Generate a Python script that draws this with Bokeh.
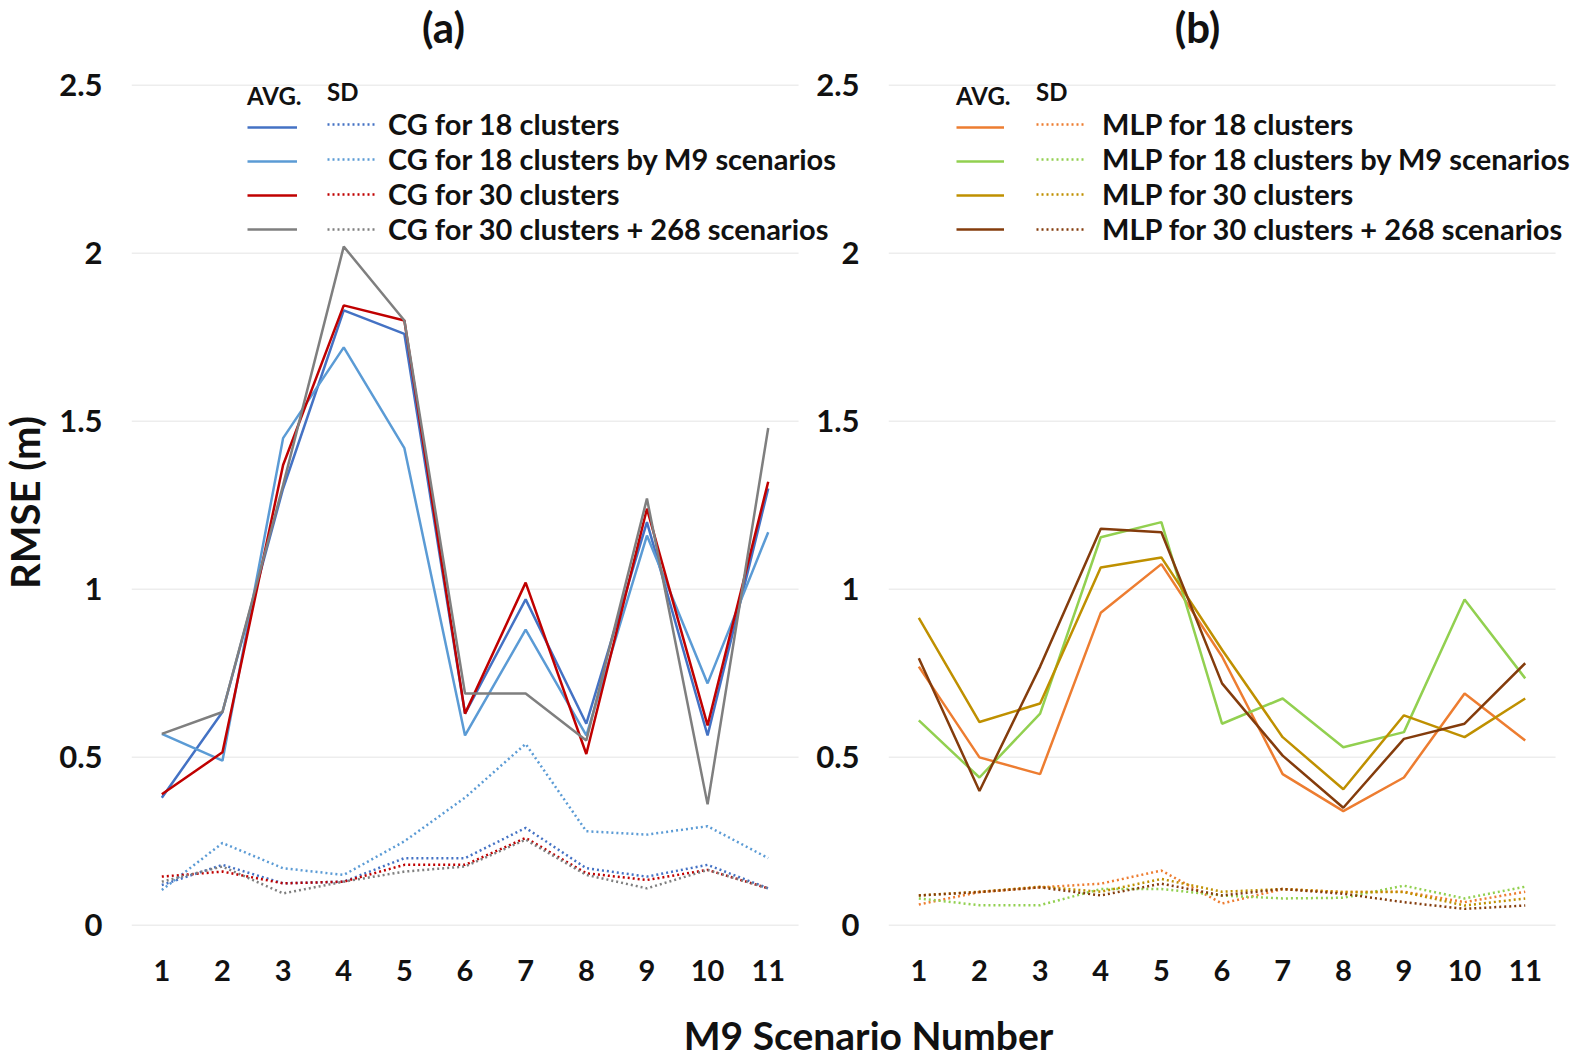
import math
from bokeh.plotting import figure
from bokeh.layouts import row, column
from bokeh.models import Legend, LegendItem, FixedTicker, NumeralTickFormatter, Label, Range1d
from bokeh.embed import file_html
from bokeh.resources import INLINE

# ---------------- data ----------------
scenarios = [1, 2, 3, 4, 5, 6, 7, 8, 9, 10, 11]
y_ticks = [0, 0.5, 1, 1.5, 2, 2.5]

cg_labels = ["CG for 18 clusters", "CG for 18 clusters by M9 scenarios",
             "CG for 30 clusters", "CG for 30 clusters + 268 scenarios"]
cg18_avg = [0.38, 0.635, 1.30, 1.83, 1.76, 0.63, 0.97, 0.60, 1.20, 0.565, 1.30]
cg18m9_avg = [0.57, 0.49, 1.45, 1.72, 1.42, 0.565, 0.88, 0.565, 1.16, 0.72, 1.17]
cg30_avg = [0.39, 0.515, 1.37, 1.845, 1.80, 0.63, 1.02, 0.51, 1.24, 0.595, 1.32]
cg30s_avg = [0.57, 0.635, 1.31, 2.02, 1.80, 0.69, 0.69, 0.55, 1.27, 0.36, 1.48]
cg18_sd = [0.12, 0.18, 0.125, 0.13, 0.20, 0.20, 0.29, 0.17, 0.145, 0.18, 0.11]
cg18m9_sd = [0.105, 0.245, 0.17, 0.15, 0.25, 0.38, 0.54, 0.28, 0.27, 0.295, 0.20]
cg30_sd = [0.145, 0.16, 0.125, 0.13, 0.18, 0.18, 0.26, 0.155, 0.135, 0.165, 0.11]
cg30s_sd = [0.13, 0.175, 0.095, 0.13, 0.16, 0.175, 0.255, 0.15, 0.11, 0.165, 0.11]

mlp_labels = ["MLP for 18 clusters", "MLP for 18 clusters by M9 scenarios",
              "MLP for 30 clusters", "MLP for 30 clusters + 268 scenarios"]
mlp18_avg = [0.77, 0.50, 0.45, 0.93, 1.075, 0.80, 0.45, 0.34, 0.44, 0.69, 0.55]
mlp18m9_avg = [0.61, 0.44, 0.63, 1.155, 1.20, 0.60, 0.675, 0.53, 0.575, 0.97, 0.735]
mlp30_avg = [0.915, 0.605, 0.66, 1.065, 1.095, 0.82, 0.56, 0.405, 0.625, 0.56, 0.675]
mlp30s_avg = [0.795, 0.40, 0.77, 1.18, 1.17, 0.72, 0.505, 0.35, 0.555, 0.60, 0.78]
mlp18_sd = [0.062, 0.099, 0.113, 0.124, 0.163, 0.065, 0.108, 0.099, 0.10, 0.069, 0.10]
mlp18m9_sd = [0.08, 0.06, 0.06, 0.108, 0.108, 0.089, 0.08, 0.082, 0.118, 0.08, 0.115]
mlp30_sd = [0.089, 0.10, 0.115, 0.10, 0.138, 0.10, 0.108, 0.099, 0.099, 0.059, 0.08]
mlp30s_sd = [0.089, 0.099, 0.113, 0.089, 0.124, 0.089, 0.108, 0.094, 0.069, 0.049, 0.059]

cg_colors = ["#4472C4", "#5B9BD5", "#C00000", "#7F7F7F"]
mlp_colors = ["#ED7D31", "#92D050", "#BF9000", "#843C0C"]

FONT = "Lato"
PX_PER_X = 60.64
FRAME_H = 877
TOP = 14
BOTTOM = 45
PANEL_H = TOP + FRAME_H + BOTTOM   # 936
TITLE_H = 54
XLAB_H = 70
YLAB_W = 48


def text_fig(width, height):
    f = figure(width=width, height=height, x_range=Range1d(0, 1), y_range=Range1d(0, 1),
               output_backend="svg", toolbar_location=None, min_border=0,
               x_axis_location=None, y_axis_location=None)
    f.title = None
    f.outline_line_color = None
    f.grid.visible = False
    return f


def make_panel(labels, avgs, sds, colors, border_left, frame_w, border_right,
               leg1_x, leg2_x, glyph_w, standoff, margin):
    x_end = 0.5 + frame_w / PX_PER_X
    p = figure(width=border_left + frame_w + border_right, height=PANEL_H,
               x_range=Range1d(0.5, x_end), y_range=Range1d(-0.06, 2.55),
               output_backend="svg", toolbar_location=None,
               min_border_left=border_left, min_border_right=border_right,
               min_border_top=TOP, min_border_bottom=BOTTOM, margin=margin)
    p.outline_line_color = None
    p.border_fill_alpha = 0
    p.background_fill_alpha = 0
    p.grid.visible = False
    # horizontal gridlines over the scenario span only
    p.segment(x0=[scenarios[0] - 0.5] * len(y_ticks), x1=[scenarios[-1] + 0.5] * len(y_ticks),
              y0=y_ticks, y1=y_ticks, line_color="#EDEDED", line_width=1.5)

    for ax in (p.xaxis, p.yaxis):
        ax.axis_line_color = None
        ax.major_tick_line_color = None
        ax.minor_tick_line_color = None
        ax.major_label_text_font = FONT
        ax.major_label_text_font_style = "bold"
        ax.major_label_text_color = "#111111"
    p.xaxis.major_label_text_font_size = "29px"
    p.yaxis.major_label_text_font_size = "31px"
    p.xaxis.ticker = FixedTicker(ticks=scenarios)
    p.xaxis.major_label_standoff = 8
    p.yaxis.ticker = FixedTicker(ticks=y_ticks)
    p.yaxis.formatter = NumeralTickFormatter(format="0.[0]")
    p.yaxis.major_label_standoff = 23

    solid_items, dot_items = [], []
    for lab, a, s, c in zip(labels, avgs, sds, colors):
        rs = p.line(scenarios, a, line_color=c, line_width=2.5)
        rd = p.line(scenarios, s, line_color=c, line_width=2.5, line_dash="2 3")
        solid_items.append(LegendItem(label=" ", renderers=[rs]))
        dot_items.append(LegendItem(label=lab, renderers=[rd]))

    common = dict(padding=0, spacing=0, glyph_height=34, label_height=34,
                  glyph_width=glyph_w, background_fill_alpha=0, border_line_alpha=0,
                  label_text_font=FONT, label_text_font_style="bold",
                  label_text_font_size="29px", label_text_color="#111111",
                  label_text_line_height=1.1,
                  title_text_font=FONT, title_text_font_style="bold",
                  title_text_font_size="24px", title_text_color="#111111",
                  title_standoff=0)
    leg1 = Legend(items=solid_items, location=(leg1_x, 699), title="AVG.",
                  label_standoff=0, **common)
    leg2 = Legend(items=dot_items, location=(leg2_x, 699), title="SD",
                  label_standoff=standoff, **common)
    p.add_layout(leg1)
    p.add_layout(leg2)
    return p


# panel (a): frame 131..850 (scenario span 131..797, extra room for the legend text)
pa = make_panel(cg_labels,
                [cg18_avg, cg18m9_avg, cg30_avg, cg30s_avg],
                [cg18_sd, cg18m9_sd, cg30_sd, cg30s_sd],
                cg_colors, 131 - YLAB_W, 719, 0, 116, 196, 50, 11, (0, 0, 0, 0))
# panel (b): overlaps (a)'s empty right margin so its tick labels sit at ~810-855
pb = make_panel(mlp_labels,
                [mlp18_avg, mlp18m9_avg, mlp30_avg, mlp30s_avg],
                [mlp18_sd, mlp18m9_sd, mlp30_sd, mlp30s_sd],
                mlp_colors, 86, 682, 8, 68, 148, 48, 18, (0, 0, 0, -48))

# rotated y label
py = text_fig(YLAB_W, PANEL_H)
py.add_layout(Label(x=24, y=443, x_units="screen", y_units="screen",
                    text="RMSE (m)", angle=math.pi / 2, text_font=FONT,
                    text_font_style="bold", text_font_size="40px", text_align="center",
                    text_baseline="middle", text_color="#111111"))

# panel tags
pt = text_fig(1578, TITLE_H)
for tag, xc in (("(a)", 443), ("(b)", 1197)):
    pt.add_layout(Label(x=xc, y=26, x_units="canvas", y_units="canvas", text=tag,
                        text_font=FONT, text_font_style="bold", text_font_size="42px",
                        text_align="center", text_baseline="middle", text_color="#111111"))

# shared x label
px = text_fig(1578, XLAB_H)
px.add_layout(Label(x=868, y=44, x_units="canvas", y_units="canvas",
                    text="M9 Scenario Number", text_font=FONT, text_font_style="bold",
                    text_font_size="39px", text_align="center", text_baseline="middle",
                    text_color="#111111"))

layout = column(pt, row(py, pa, pb), px)
open("out.html", "w").write(file_html(layout, INLINE))
